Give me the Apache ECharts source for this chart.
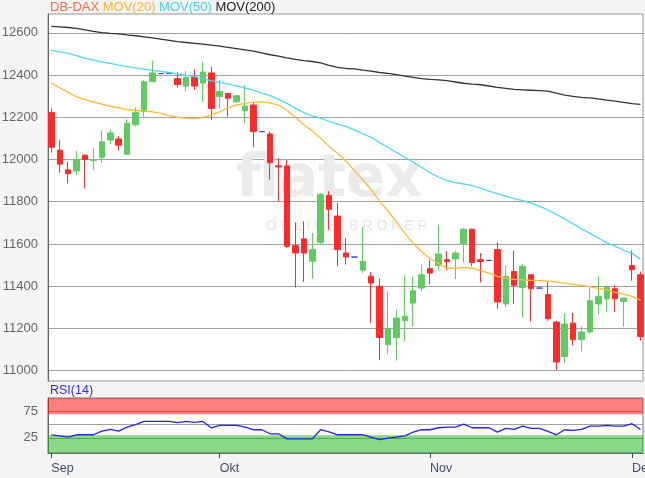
<!DOCTYPE html>
<html><head><meta charset="utf-8">
<script src="https://cdn.jsdelivr.net/npm/echarts@6/dist/echarts.min.js"></script>
<style>html,body{margin:0;padding:0;background:#f4f4f4}#c{width:645px;height:478px}</style>
</head><body><div id="c"></div>
<script>
// ---- data ----
const monthLabels = ['Sep', 'Okt', 'Nov', 'Dez'];
const monthIndex = [0, 20, 45, 69];
const priceTicks = [11000, 11200, 11400, 11600, 11800, 12000, 12200, 12400, 12600];
const rsiGridTicks = [25, 50, 75];
const rsiLabelTicks = [25, 75];

const opens = [12222,12044,11951,11946,12020,11995,12010,12092,12097,12025,12164,12227,12368,12407,12407,12383,12348,12391,12362,12410,
  12298,12313,12273,12231,12258,12132,12121,11970,11969,11592,11624,11518,11608,11830,11732,11557,11538,11476,11447,11400,
  11123,11157,11236,11320,11391,11483,11498,11525,11529,11601,11670,11525,11522,11573,11316,11470,11394,11454,11391,11360,
  11230,11067,11225,11147,11183,11316,11340,11388,11328,11498,11454];
const closes = [12058,11978,11933,12000,12000,11998,12084,12126,12068,12172,12222,12368,12410,12407,12407,12355,12388,12348,12414,12242,
  12322,12290,12302,12253,12132,12132,11984,11965,11589,11557,11557,11573,11835,11764,11573,11538,11538,11518,11415,11157,
  11199,11249,11257,11378,11454,11462,11552,11517,11557,11670,11512,11517,11522,11325,11446,11404,11494,11388,11391,11246,
  11041,11221,11147,11183,11331,11352,11394,11340,11344,11478,11162];
const lows = [12033,11937,11887,11926,11863,11951,11986,12073,12042,12020,12156,12203,12368,12407,12407,12341,12322,12329,12273,12187,
  12242,12203,12270,12175,12058,12132,11905,11803,11581,11394,11420,11436,11597,11667,11494,11502,11538,11463,11225,11050,
  11079,11047,11138,11209,11375,11407,11473,11475,11434,11512,11495,11418,11522,11293,11299,11316,11252,11233,11391,11236,
  11004,11036,11120,11091,11175,11268,11278,11278,11209,11426,11142];
const highs = [12242,12092,11989,12041,12024,12052,12137,12140,12111,12191,12247,12375,12468,12407,12407,12414,12419,12426,12462,12439,
  12376,12313,12305,12352,12273,12132,12132,12005,11997,11702,11707,11652,11842,11850,11795,11628,11538,11681,11467,11436,
  11375,11289,11451,11446,11502,11525,11691,11565,11568,11675,11672,11557,11522,11609,11498,11568,11505,11458,11391,11420,
  11236,11273,11273,11209,11394,11446,11404,11404,11344,11568,11470];

const mov20 = [12363,12340,12318,12297,12283,12272,12262,12252,12245,12236,12232,12230,12226,12218,12208,12200,12196,12194,12198,12211,
  12226,12245,12258,12266,12272,12273,12268,12258,12232,12200,12165,12135,12100,12062,12030,11992,11947,11904,11858,11803,
  11755,11705,11650,11603,11563,11530,11508,11485,11486,11489,11485,11474,11462,11446,11438,11432,11430,11428,11426,11424,
  11420,11415,11409,11404,11397,11390,11382,11371,11362,11352,11334];
const mov50 = [12518,12510,12502,12492,12479,12471,12462,12455,12447,12440,12434,12428,12422,12417,12412,12405,12398,12392,12383,12372,
  12365,12357,12349,12339,12329,12314,12302,12285,12266,12242,12222,12207,12196,12180,12168,12157,12140,12122,12105,12080,
  12057,12033,12010,11987,11962,11937,11917,11900,11891,11884,11876,11864,11850,11838,11826,11815,11805,11793,11778,11761,
  11740,11718,11695,11672,11650,11628,11605,11590,11570,11556,11527];
const mov200 = [12630,12628,12625,12621,12614,12607,12601,12597,12595,12590,12586,12581,12576,12570,12564,12558,12554,12550,12546,12542,
  12537,12531,12525,12519,12513,12505,12496,12489,12481,12474,12468,12464,12458,12446,12436,12431,12429,12423,12418,12412,
  12408,12402,12395,12389,12383,12379,12377,12373,12367,12361,12357,12354,12348,12342,12337,12332,12330,12328,12326,12324,
  12314,12305,12299,12294,12292,12287,12281,12276,12270,12265,12261];
const rsi14 = [30.8,28.8,26.2,30.8,30.8,30.8,37.7,41,37.7,45.4,50,56.3,56.3,56.3,56.3,53.8,56.3,54.4,56.3,44.2,
  48.7,48.7,48.7,45.4,40.4,40.4,32.7,32.7,23,23,23,23,40.4,36.5,30.8,30.8,30.8,30.8,26.2,21.7,
  24.2,26.2,28.8,35.8,40.4,40.4,44.2,45.4,45.4,51.2,44.2,44.2,44.2,35.8,42.9,41,47.4,42.9,42.9,37.1,
  30.8,40.4,39.1,41,47.4,47.4,48.7,47.4,47.4,51.9,41];

// ---- chart ----
const FONT = '"Liberation Sans", Arial, sans-serif';
const candleData = opens.map((o, i) => [i, o, closes[i], lows[i], highs[i]]);
const toXY = arr => arr.map((v, i) => [i, v]);
const xMin = -0.4, xMax = 70.3;

const chart = echarts.init(document.getElementById('c'), null, {renderer: 'canvas'});
chart.setOption({
  backgroundColor: '#f4f4f4',
  animation: false,
  title: {
    text: '{a|DB-DAX} {b|MOV(20)} {c|MOV(50)} {d|MOV(200)}',
    left: 45, top: 0, padding: [1, 5],
    textStyle: {
      fontSize: 13, fontFamily: FONT, fontWeight: 'normal',
      rich: {
        a: {color: '#ff6a40', fontSize: 13, fontFamily: FONT},
        b: {color: '#ffb42a', fontSize: 13, fontFamily: FONT},
        c: {color: '#3fd2f2', fontSize: 13, fontFamily: FONT},
        d: {color: '#222222', fontSize: 13, fontFamily: FONT}
      }
    }
  },
  grid: [
    {left: 48, right: 2, top: 14, height: 367, show: true, backgroundColor: '#ffffff', borderColor: '#999', borderWidth: 1, outerBoundsMode: 'none', containLabel: false},
    {left: 48, right: 2, top: 398, height: 55, show: true, backgroundColor: '#ffffff', borderColor: '#777', borderWidth: 1, outerBoundsMode: 'none', containLabel: false}
  ],
  xAxis: [
    {type: 'value', gridIndex: 0, min: xMin, max: xMax, show: false},
    {type: 'value', gridIndex: 1, min: xMin, max: xMax,
      axisLine: {show: true, onZero: false, lineStyle: {color: '#666'}},
      splitLine: {show: false},
      axisTick: {show: true, customValues: monthIndex, length: 5, lineStyle: {color: '#3a4a66'}},
      axisLabel: {customValues: monthIndex, formatter: v => monthLabels[monthIndex.indexOf(v)] || '',
        align: 'left', margin: 9, color: '#3d4f6a', fontSize: 12.5, fontFamily: FONT}
    }
  ],
  yAxis: [
    {type: 'value', gridIndex: 0, min: 10951, max: 12689,
      axisLine: {show: true, onZero: false, lineStyle: {color: '#666'}},
      axisTick: {show: false, customValues: priceTicks},
      axisLabel: {customValues: priceTicks, formatter: v => String(v), margin: 10, color: '#666', fontSize: 13, fontFamily: FONT},
      splitLine: {show: true, lineStyle: {color: '#a0a0a0', width: 1}}
    },
    {type: 'value', gridIndex: 1, min: -4, max: 101,
      axisLine: {show: true, onZero: false, lineStyle: {color: '#666'}},
      axisTick: {show: false, customValues: rsiGridTicks},
      axisLabel: {customValues: rsiLabelTicks, formatter: v => String(v), margin: 10, color: '#666', fontSize: 13, fontFamily: FONT},
      splitLine: {show: true, lineStyle: {color: '#a0a0a0', width: 1}}
    }
  ],
  graphic: [
    {type: 'text', z: 1, left: 236, top: 152, style: {text: 'flatex', font: 'bold 58px "DejaVu Sans"', fill: '#ebebeb'}},
    {type: 'text', z: 1, left: 266, top: 219, style: {text: 'O N L I N E   B R O K E R', font: '14px ' + FONT, fill: '#e6e6e6'}},
    {type: 'text', left: 50, top: 384, style: {text: 'RSI(14)', font: '12.5px ' + FONT, fill: '#2a2af0'}}
  ],
  series: [
    {type: 'candlestick', xAxisIndex: 0, yAxisIndex: 0, data: candleData, barWidth: 6, z: 3,
      itemStyle: {color: '#62ca62', color0: '#ff2b2b', borderColor: '#62ca62', borderColor0: '#ff2b2b', borderColorDoji: '#3c3cdc', borderWidth: 1}},
    {type: 'line', xAxisIndex: 0, yAxisIndex: 0, data: toXY(mov20), showSymbol: false, z: 4, lineStyle: {color: '#ffb833', width: 1.3}},
    {type: 'line', xAxisIndex: 0, yAxisIndex: 0, data: toXY(mov50), showSymbol: false, z: 4, lineStyle: {color: '#4fd8f6', width: 1.3}},
    {type: 'line', xAxisIndex: 0, yAxisIndex: 0, data: toXY(mov200), showSymbol: false, z: 4, lineStyle: {color: '#333333', width: 1.3}},
    {type: 'line', xAxisIndex: 1, yAxisIndex: 1, data: toXY(rsi14), showSymbol: false, z: 4, lineStyle: {color: '#2222ee', width: 1.3},
      markArea: {silent: true, data: [
        [{yAxis: 70, itemStyle: {color: 'rgba(255,0,0,0.5)'}}, {yAxis: 101}],
        [{yAxis: -4, itemStyle: {color: 'rgba(16,178,16,0.5)'}}, {yAxis: 30}]
      ]}}
  ]
});
</script></body></html>
